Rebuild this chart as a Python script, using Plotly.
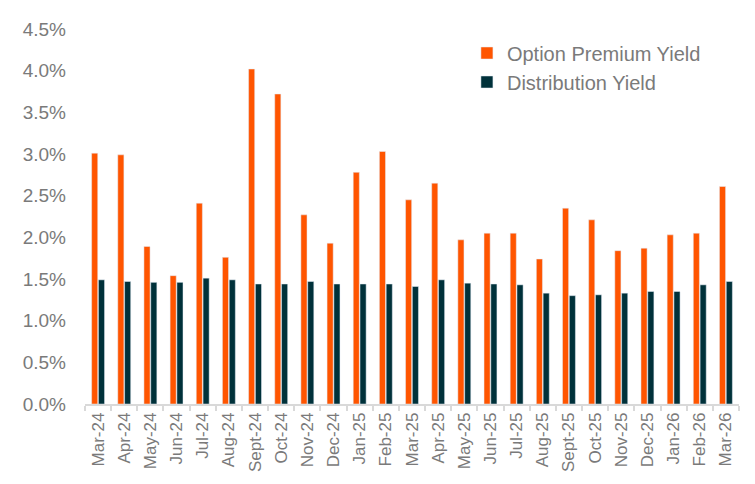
import plotly.graph_objects as go

months = ["Mar-24", "Apr-24", "May-24", "Jun-24", "Jul-24", "Aug-24", "Sept-24", "Oct-24",
          "Nov-24", "Dec-24", "Jan-25", "Feb-25", "Mar-25", "Apr-25", "May-25", "Jun-25",
          "Jul-25", "Aug-25", "Sept-25", "Oct-25", "Nov-25", "Dec-25", "Jan-26", "Feb-26", "Mar-26"]
option_premium_yield = [3.01, 2.99, 1.89, 1.54, 2.41, 1.76, 4.02, 3.72, 2.27, 1.93, 2.78, 3.03,
                        2.45, 2.65, 1.97, 2.05, 2.05, 1.74, 2.35, 2.21, 1.84, 1.87, 2.03, 2.05, 2.61]
distribution_yield = [1.49, 1.47, 1.46, 1.46, 1.51, 1.49, 1.44, 1.44, 1.47, 1.44, 1.44, 1.44,
                      1.41, 1.49, 1.45, 1.44, 1.43, 1.33, 1.30, 1.31, 1.33, 1.35, 1.35, 1.43, 1.47]
y_ticks = [0, 0.5, 1.0, 1.5, 2.0, 2.5, 3.0, 3.5, 4.0, 4.5]

fig = go.Figure()
fig.add_trace(go.Bar(x=months, y=option_premium_yield, name="Option Premium Yield",
                     marker=dict(color="#FF5500")))
fig.add_trace(go.Bar(x=months, y=distribution_yield, name="Distribution Yield",
                     marker=dict(color="#00313A")))

fig.update_layout(
    width=755, height=484,
    margin=dict(l=77, r=24, t=21, b=88, autoexpand=False),
    paper_bgcolor="white", plot_bgcolor="white",
    barmode="group", bargap=0.48, bargroupgap=0.1,
    font=dict(family="Liberation Sans, Arial, sans-serif", color="#7a7a7a"),
    legend=dict(x=0.584, y=0.988, xanchor="left", yanchor="top",
                font=dict(size=20, color="#7a7a7a"), bgcolor="rgba(0,0,0,0)",
                itemwidth=30, tracegroupgap=0),
    showlegend=True,
)
fig.update_xaxes(
    type="category", showgrid=False, showline=True, linecolor="#d9d9d9", linewidth=1.5,
    ticks="outside", tickson="boundaries", ticklen=5, tickcolor="#d9d9d9", tickwidth=1.5,
    tickangle=-90, tickfont=dict(size=17, color="#7a7a7a"), automargin=False,
)
fig.update_yaxes(
    range=[0, 4.5], tickvals=y_ticks, ticktext=[f"{v:.1f}%" for v in y_ticks],
    showgrid=False, showline=False, zeroline=False, automargin=False,
    tickfont=dict(size=19, color="#7a7a7a"), ticklabelstandoff=18,
)

fig.write_html("out.html")
